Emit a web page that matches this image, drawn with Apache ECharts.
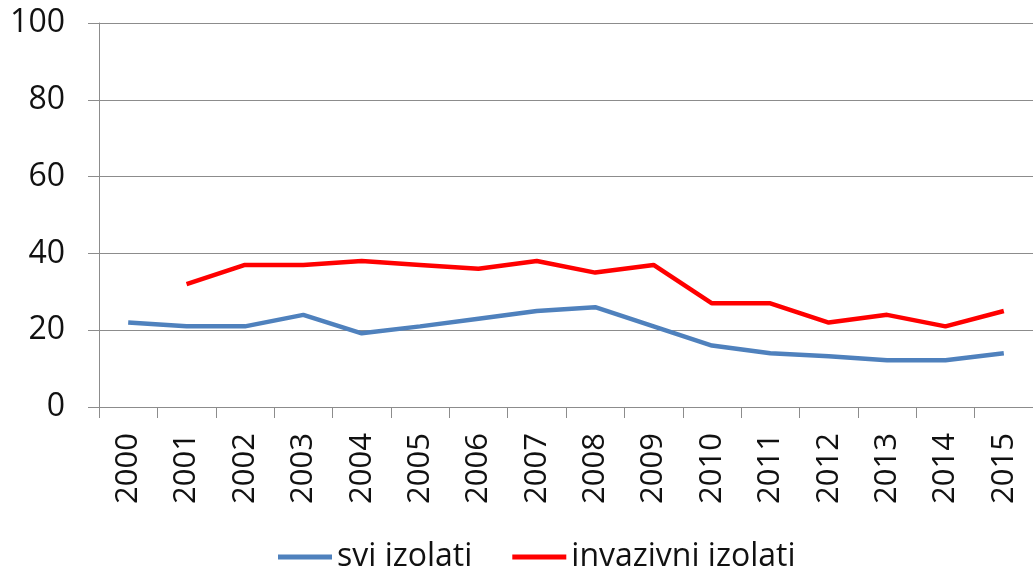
<!DOCTYPE html>
<html>
<head>
<meta charset="utf-8">
<script src="https://cdn.jsdelivr.net/npm/echarts@6/dist/echarts.min.js"></script>
<style>
html,body{margin:0;padding:0;background:#fff;}
#chart{width:1033px;height:568px;}
</style>
</head>
<body>
<div id="chart"></div>
<script>
var years = ['2000','2001','2002','2003','2004','2005','2006','2007','2008','2009','2010','2011','2012','2013','2014','2015'];
var sviIzolati = [22, 21, 21, 24, 19.2, 21, 23, 25, 26, 21, 16, 14, 13.2, 12.2, 12.2, 14];
var invazivniIzolati = [null, 32, 37, 37, 38, 37, 36, 38, 35, 37, 27, 27, 22, 24, 21, 25];
var yTicks = [0, 20, 40, 60, 80, 100];

var chart = echarts.init(document.getElementById('chart'));
var font = '"Open Sans", sans-serif';
chart.setOption({
  animation: false,
  backgroundColor: '#ffffff',
  grid: { left: 99, top: 23, right: -12, bottom: 161 },
  legend: {
    left: 273, top: 536,
    itemWidth: 54, itemHeight: 5, itemGap: 40,
    icon: 'rect',
    textStyle: { fontFamily: font, fontSize: 32, color: '#111' },
    data: ['svi izolati', 'invazivni izolati']
  },
  xAxis: {
    type: 'category',
    data: years,
    boundaryGap: true,
    axisLine: { lineStyle: { color: '#8c8c8c', width: 1 } },
    axisTick: { show: true, length: 11, lineStyle: { color: '#8c8c8c' } },
    axisLabel: { rotate: 90, margin: 26, fontFamily: font, fontSize: 31, color: '#111' },
    splitLine: { show: false }
  },
  yAxis: {
    type: 'value',
    min: yTicks[0], max: yTicks[yTicks.length - 1], interval: 20,
    axisLine: { show: true, lineStyle: { color: '#8c8c8c', width: 1 } },
    axisTick: { show: true, length: 11, lineStyle: { color: '#8c8c8c' } },
    axisLabel: { margin: 34, fontFamily: font, fontSize: 32, color: '#111' },
    splitLine: { show: true, lineStyle: { color: '#8c8c8c', width: 1 } }
  },
  series: [
    {
      name: 'svi izolati', type: 'line', data: sviIzolati,
      symbol: 'none', itemStyle: { color: '#4f81bd' },
      lineStyle: { color: '#4f81bd', width: 4.5 }
    },
    {
      name: 'invazivni izolati', type: 'line', data: invazivniIzolati,
      symbol: 'none', connectNulls: false, itemStyle: { color: '#ff0000' },
      lineStyle: { color: '#ff0000', width: 4.5 }
    }
  ]
});
</script>
</body>
</html>
